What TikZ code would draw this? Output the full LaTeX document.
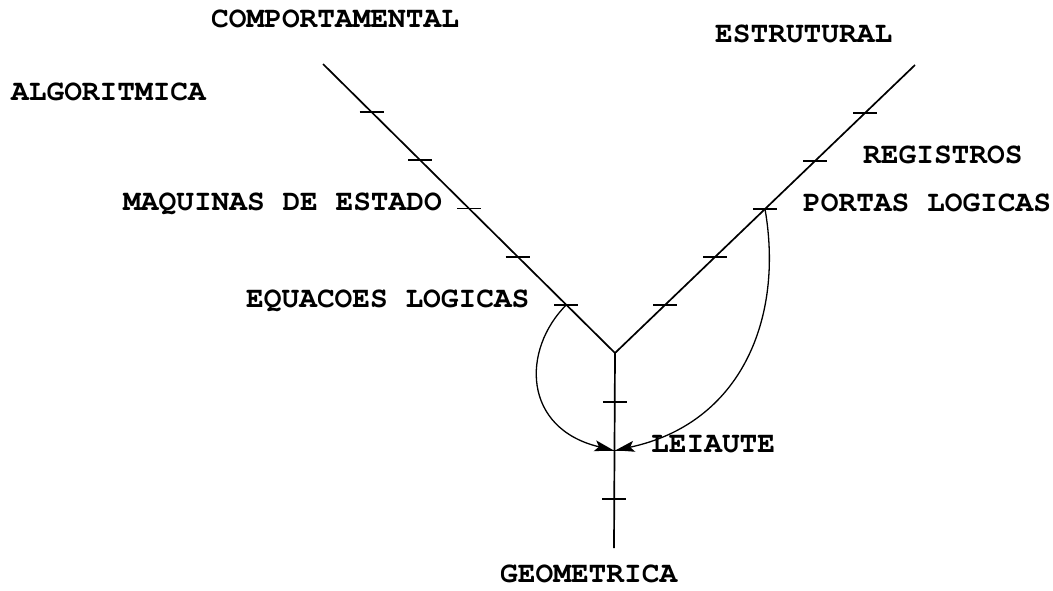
\documentclass[tikz,border=0pt]{standalone}
\usepackage{fontspec}
\setmonofont{texgyrecursor-bold.otf}
\usetikzlibrary{calc,arrows.meta}
\begin{document}
\begin{tikzpicture}[x=1pt,y=-1pt,
  axis/.style={line width=1.7pt,black},
  tickmark/.style={line width=1.7pt,black},
  curvearrow/.style={line width=1.3pt,-{Stealth[length=19pt,width=11pt,inset=4pt]}},
  lbl/.style={inner sep=0pt,anchor=base west,font=\ttfamily\fontsize{29.5}{32}\selectfont}]
\useasboundingbox (0,0) rectangle (1053,590);
% axes
\coordinate (V) at (615,353);
\coordinate (L) at (323,64);
\coordinate (R) at (915,65);
\coordinate (B) at (614,548);
\draw[axis] (L) -- (V) -- (R);
\draw[axis] (V) -- (B);
% ticks
\foreach \k in {1,...,5}{
  \coordinate (tl\k) at ($(V)!\k/6!(L)$);
  \coordinate (tr\k) at ($(V)!\k/6!(R)$);
  \draw[tickmark] ($(tl\k)+(-12,0)$) -- ($(tl\k)+(12,0)$);
  \draw[tickmark] ($(tr\k)+(-12,0)$) -- ($(tr\k)+(12,0)$);
}
\foreach \k in {1,2,3}{
  \coordinate (tv\k) at ($(V)!\k/4!(B)$);
  \draw[tickmark] ($(tv\k)+(-12,0)$) -- ($(tv\k)+(12,0)$);
}
% curved arrows
\draw[curvearrow,shorten >=1pt] (tl1) .. controls +(-45,45) and +(-92,-22) .. (tv2);
\draw[curvearrow,shorten >=1pt] (tr3) .. controls +(19,109) and +(127,-27) .. (tv2);
% labels
\node[lbl] (comp) at (211,27) {COMPORTAMENTAL};
\node[lbl] (alg) at (11,100) {ALGORITMICA};
\node[lbl] (estr) at (715,42) {ESTRUTURAL};
\node[lbl] (reg) at (863,163) {REGISTROS};
\node[lbl] (maq) at (123,210) {MAQUINAS DE ESTADO};
\node[lbl] (equ) at (246,307) {EQUACOES LOGICAS};
\node[lbl] (port) at (803,211) {PORTAS LOGICAS};
\node[lbl] (lei) at (651,452) {LEIAUTE};
\node[lbl] (geo) at (500,582) {GEOMETRICA};
\end{tikzpicture}
\end{document}
